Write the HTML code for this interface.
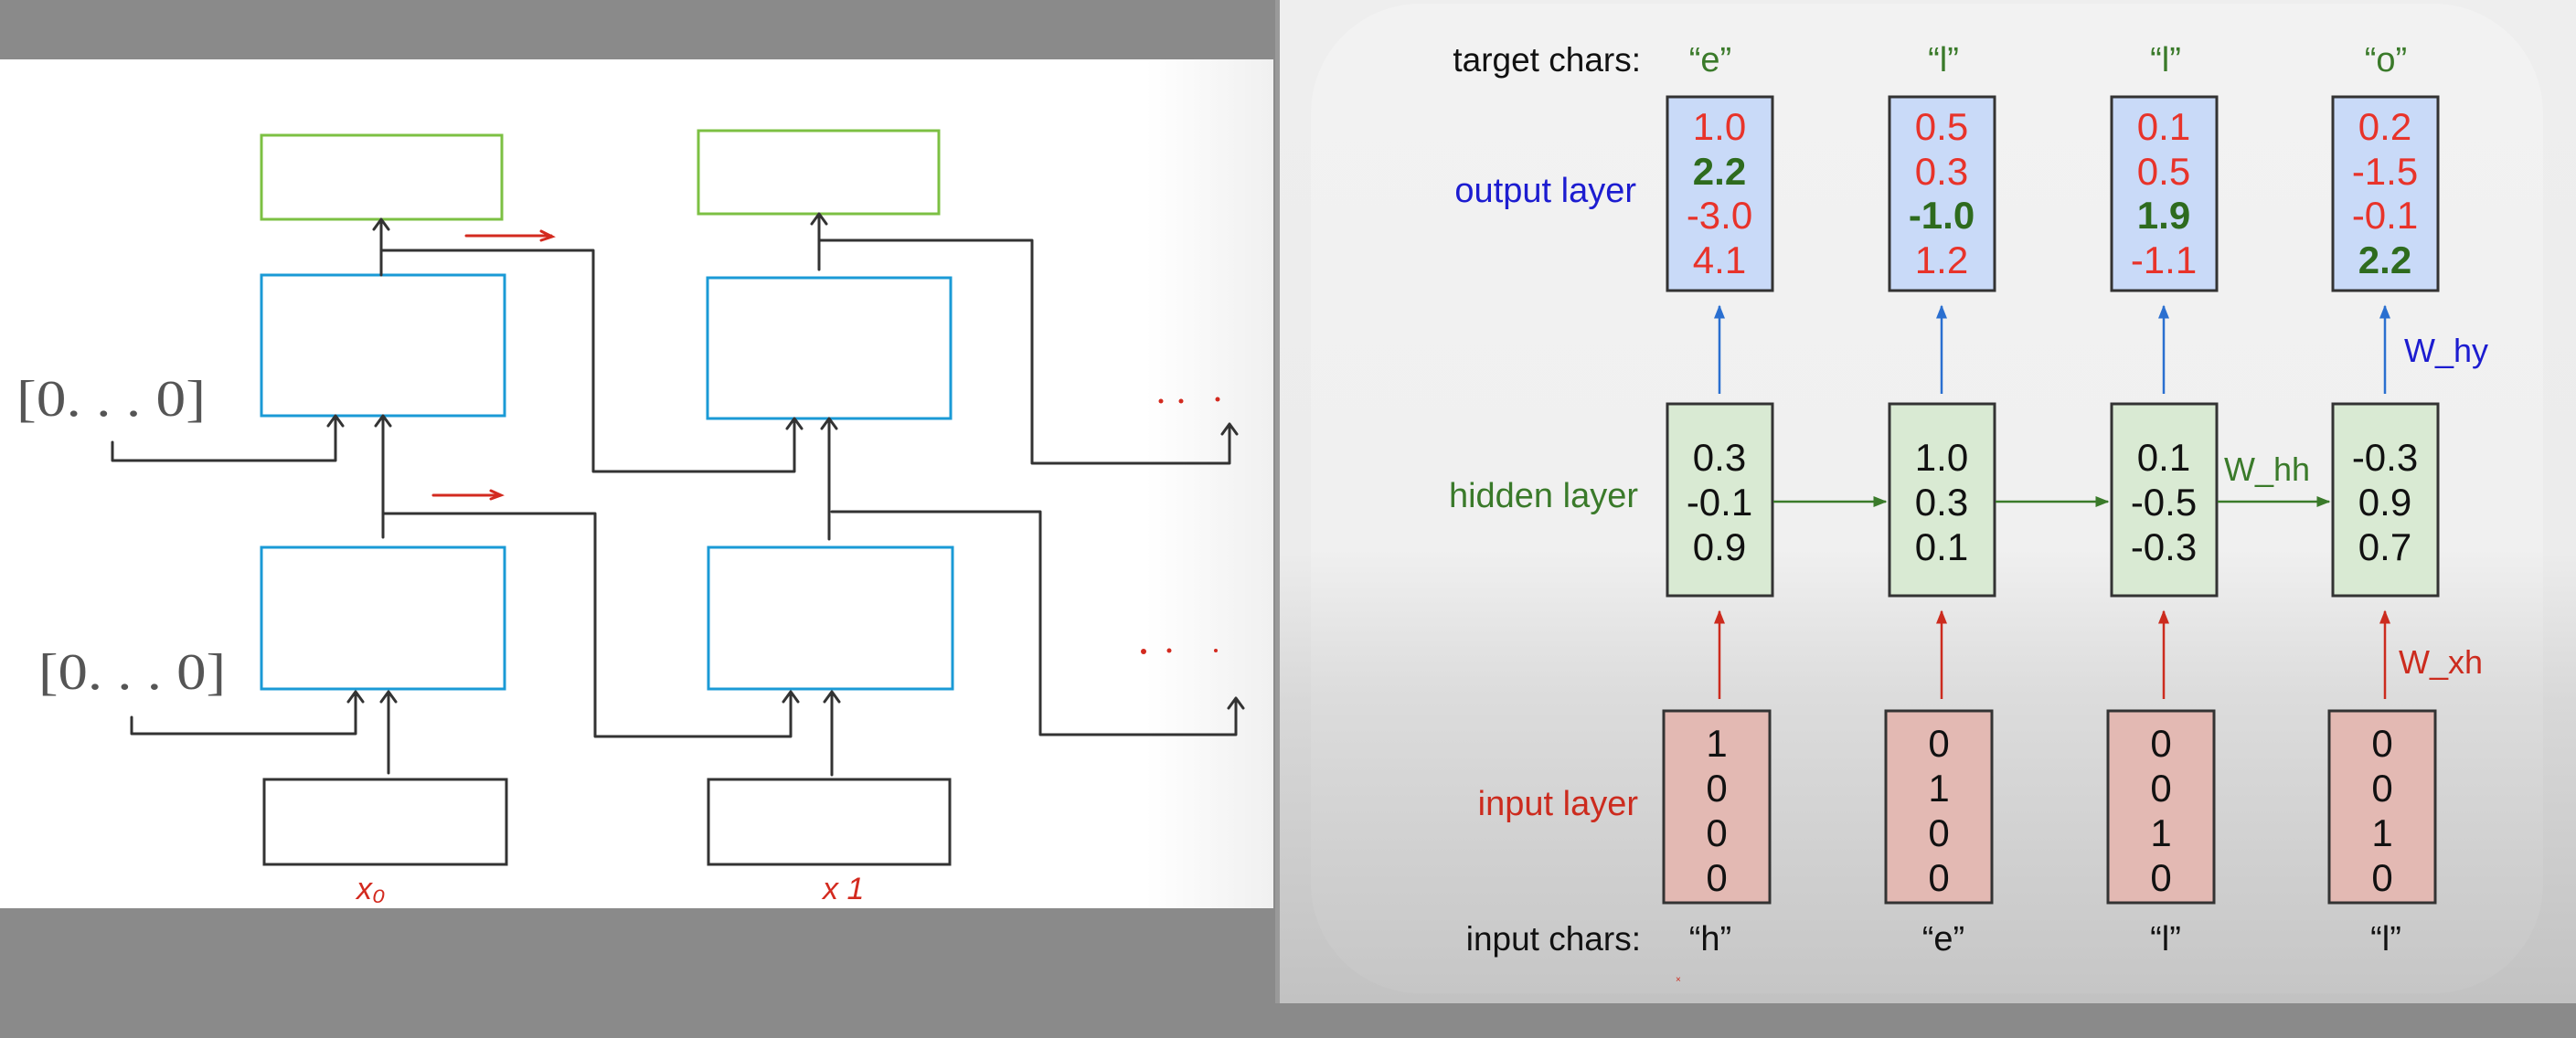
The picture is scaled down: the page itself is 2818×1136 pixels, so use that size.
<!DOCTYPE html>
<html><head><meta charset="utf-8"><style>
html,body{margin:0;padding:0;width:2818px;height:1136px;overflow:hidden;background:#8a8a8a}
svg{display:block}
</style></head><body>
<svg width="2818" height="1136" viewBox="0 0 2818 1136" xmlns="http://www.w3.org/2000/svg" font-family="Liberation Sans, Arial, sans-serif">
<defs>
<linearGradient id="bg" x1="0" y1="0" x2="0" y2="1">
<stop offset="0" stop-color="#eeeeee"/><stop offset="0.55" stop-color="#ececec"/><stop offset="0.7" stop-color="#d8d8d8"/><stop offset="1" stop-color="#c2c2c2"/>
</linearGradient>
<linearGradient id="bg2" x1="0" y1="0" x2="0" y2="1">
<stop offset="0" stop-color="#f2f2f2"/><stop offset="0.55" stop-color="#f0f0f0"/><stop offset="0.7" stop-color="#dcdcdc"/><stop offset="1" stop-color="#c6c6c6"/>
</linearGradient>
<linearGradient id="lw" x1="0" y1="0" x2="1" y2="0">
<stop offset="0" stop-color="#ffffff"/><stop offset="0.9" stop-color="#ffffff"/><stop offset="1" stop-color="#f0f0f0"/>
</linearGradient>
<marker id="ab" viewBox="0 0 10 10" refX="9" refY="5" markerWidth="6" markerHeight="6" orient="auto"><path d="M0,1 L10,5 L0,9 z" fill="#2a6fd0"/></marker>
<marker id="ar" viewBox="0 0 10 10" refX="9" refY="5" markerWidth="6" markerHeight="6" orient="auto"><path d="M0,1 L10,5 L0,9 z" fill="#cc2b1e"/></marker>
<marker id="ag" viewBox="0 0 10 10" refX="9" refY="5" markerWidth="6" markerHeight="6" orient="auto"><path d="M0,1 L10,5 L0,9 z" fill="#3a7a2a"/></marker>
</defs>

<rect x="0" y="0" width="1395" height="1136" fill="#8a8a8a"/>
<rect x="0" y="65" width="1393" height="929" fill="url(#lw)"/>

<g fill="none" stroke-width="3">
<rect x="286" y="148" width="263" height="92" stroke="#7cc043"/>
<rect x="764" y="143" width="263" height="91" stroke="#7cc043"/>
<rect x="286" y="301" width="266" height="154" stroke="#1a9ad6"/>
<rect x="774" y="304" width="266" height="154" stroke="#1a9ad6"/>
<rect x="286" y="599" width="266" height="155" stroke="#1a9ad6"/>
<rect x="775" y="599" width="267" height="155" stroke="#1a9ad6"/>
<rect x="289" y="853" width="265" height="93" stroke="#333"/>
<rect x="775" y="853" width="264" height="93" stroke="#333"/>
</g>

<g fill="none" stroke="#333" stroke-width="3" stroke-linejoin="round" stroke-linecap="round">
<path d="M425 846 V758 M417 768 L425 757 L433 768"/>
<path d="M144 785 V803 H389 V758 M381 768 L389 757 L397 768"/>
<path d="M419 588 V456 M411 466 L419 455 L427 466"/>
<path d="M419 562 H651 V806 H865 V758 M857 768 L865 757 L873 768"/>
<path d="M123 484 V504 H367 V456 M359 466 L367 455 L375 466"/>
<path d="M417 301 V241 M409 251 L417 240 L425 251"/>
<path d="M417 274 H649 V516 H869 V459 M861 469 L869 458 L877 469"/>
<path d="M910 848 V758 M902 768 L910 757 L918 768"/>
<path d="M907 590 V459 M899 469 L907 458 L915 469"/>
<path d="M910 560 H1138 V804 H1352 V765 M1344 775 L1352 764 L1360 775"/>
<path d="M896 295 V235 M888 245 L896 234 L904 245"/>
<path d="M896 263 H1129 V507 H1345 V465 M1337 475 L1345 464 L1353 475"/>
</g>

<g fill="none" stroke="#d32a1f" stroke-width="3" stroke-linecap="round">
<path d="M510 258 H603 M592 253 L604 259 L592 263"/>
<path d="M474 542 H547 M537 537 L548 542 L537 546"/>
</g>
<g fill="#d32a1f">
<circle cx="1270" cy="439" r="2.5"/><circle cx="1292" cy="439" r="2.5"/><circle cx="1332" cy="437" r="2.5"/>
<circle cx="1251" cy="713" r="3"/><circle cx="1279" cy="712" r="2.5"/><circle cx="1330" cy="712" r="2"/>
</g>
<g font-family="Liberation Serif, serif" fill="#555" font-size="56">
<text x="18" y="455" textLength="207" lengthAdjust="spacingAndGlyphs">[0. . . 0]</text>
<text x="42" y="754" textLength="205" lengthAdjust="spacingAndGlyphs">[0. . . 0]</text>
</g>
<g fill="#d32a1f" font-size="34" font-style="italic">
<text x="390" y="984">x₀</text>
<text x="900" y="984">x 1</text>
</g>

<rect x="1395" y="0" width="1423" height="1098" fill="url(#bg)"/>
<rect x="1395" y="0" width="5" height="1098" fill="#9a9a9a"/>
<rect x="1434" y="4" width="1348" height="1083" rx="120" fill="url(#bg2)"/>
<rect x="1395" y="1098" width="1423" height="38" fill="#8a8a8a"/>

<g font-size="37" fill="#111" text-anchor="end">
<text x="1795" y="78">target chars:</text>
<text x="1795" y="1040">input chars:</text>
</g>
<g font-size="38" text-anchor="end">
<text x="1790" y="221" fill="#1c1cd0">output layer</text>
<text x="1792" y="555" fill="#3a7a2a">hidden layer</text>
<text x="1792" y="892" fill="#cc2b1e">input layer</text>
</g>
<g font-size="38" text-anchor="middle">
<g fill="#3a7a2a">
<text x="1871" y="78">“e”</text><text x="2126" y="78">“l”</text><text x="2369" y="78">“l”</text><text x="2610" y="78">“o”</text>
</g>
<g fill="#111">
<text x="1871" y="1040">“h”</text><text x="2126" y="1040">“e”</text><text x="2369" y="1040">“l”</text><text x="2610" y="1040">“l”</text>
</g>
</g>

<g stroke="#333" stroke-width="3">
<rect x="1824" y="106" width="115" height="212" fill="#c9daf8"/>
<rect x="2067" y="106" width="115" height="212" fill="#c9daf8"/>
<rect x="2310" y="106" width="115" height="212" fill="#c9daf8"/>
<rect x="2552" y="106" width="115" height="212" fill="#c9daf8"/>
<rect x="1824" y="442" width="115" height="210" fill="#d9ead3"/>
<rect x="2067" y="442" width="115" height="210" fill="#d9ead3"/>
<rect x="2310" y="442" width="115" height="210" fill="#d9ead3"/>
<rect x="2552" y="442" width="115" height="210" fill="#d9ead3"/>
<rect x="1820" y="778" width="116" height="210" fill="#e3b9b3"/>
<rect x="2063" y="778" width="116" height="210" fill="#e3b9b3"/>
<rect x="2306" y="778" width="116" height="210" fill="#e3b9b3"/>
<rect x="2548" y="778" width="116" height="210" fill="#e3b9b3"/>
</g>

<g font-size="42" text-anchor="middle">
<g fill="#e8332a">
<text x="1881" y="153">1.0</text><text x="1881" y="250">-3.0</text><text x="1881" y="299">4.1</text>
<text x="2124" y="153">0.5</text><text x="2124" y="202">0.3</text><text x="2124" y="299">1.2</text>
<text x="2367" y="153">0.1</text><text x="2367" y="202">0.5</text><text x="2367" y="299">-1.1</text>
<text x="2609" y="153">0.2</text><text x="2609" y="202">-1.5</text><text x="2609" y="250">-0.1</text>
</g>
<g fill="#2e6b1e" font-weight="bold">
<text x="1881" y="202">2.2</text><text x="2124" y="250">-1.0</text><text x="2367" y="250">1.9</text><text x="2609" y="299">2.2</text>
</g>
<g fill="#111">
<text x="1881" y="515">0.3</text><text x="1881" y="564">-0.1</text><text x="1881" y="613">0.9</text>
<text x="2124" y="515">1.0</text><text x="2124" y="564">0.3</text><text x="2124" y="613">0.1</text>
<text x="2367" y="515">0.1</text><text x="2367" y="564">-0.5</text><text x="2367" y="613">-0.3</text>
<text x="2609" y="515">-0.3</text><text x="2609" y="564">0.9</text><text x="2609" y="613">0.7</text>
<text x="1878" y="828">1</text><text x="1878" y="877">0</text><text x="1878" y="926">0</text><text x="1878" y="975">0</text>
<text x="2121" y="828">0</text><text x="2121" y="877">1</text><text x="2121" y="926">0</text><text x="2121" y="975">0</text>
<text x="2364" y="828">0</text><text x="2364" y="877">0</text><text x="2364" y="926">1</text><text x="2364" y="975">0</text>
<text x="2606" y="828">0</text><text x="2606" y="877">0</text><text x="2606" y="926">1</text><text x="2606" y="975">0</text>
</g>
</g>

<g stroke-width="2.5" fill="none">
<g stroke="#2a6fd0" marker-end="url(#ab)">
<path d="M1881 431 V335"/><path d="M2124 431 V335"/><path d="M2367 431 V335"/><path d="M2609 431 V335"/>
</g>
<g stroke="#cc2b1e" marker-end="url(#ar)">
<path d="M1881 765 V669"/><path d="M2124 765 V669"/><path d="M2367 765 V669"/><path d="M2609 765 V669"/>
</g>
<g stroke="#3a7a2a" marker-end="url(#ag)">
<path d="M1940 549 H2063"/><path d="M2183 549 H2306"/><path d="M2426 549 H2548"/>
</g>
</g>
<text x="2630" y="396" font-size="36" fill="#1c1cd0">W_hy</text>
<text x="2624" y="737" font-size="36" fill="#cc2b1e">W_xh</text>
<text x="2433" y="526" font-size="36" fill="#3a7a2a">W_hh</text>
<text x="1833" y="1075" font-size="10" fill="#cc2b1e">×</text>
</svg>
</body></html>
